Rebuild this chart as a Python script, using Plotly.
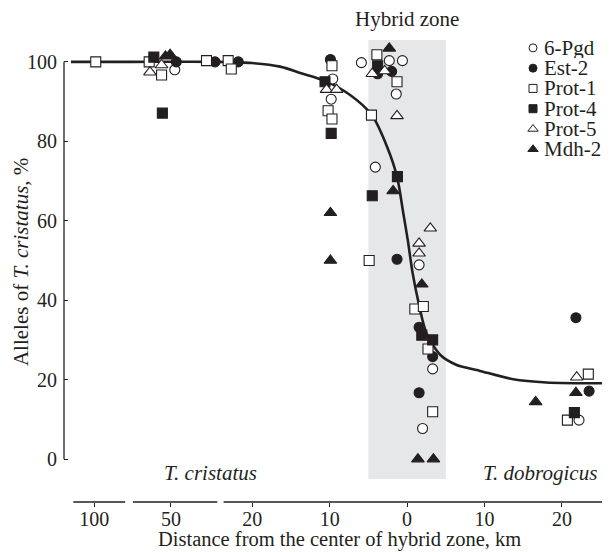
import plotly.graph_objects as go

# ---------------- data (signed distance in km: negative = T. cristatus side) -------------
genes = ["6-Pgd", "Est-2", "Prot-1", "Prot-4", "Prot-5", "Mdh-2"]
symbols = ["circle", "circle", "square", "square", "triangle-up", "triangle-up"]
filled = [False, True, False, True, False, True]

pgd6_x = [-49.5, -9.6, -9.8, -5.9, -2.3, -0.6, -1.4, -4.1, 1.55, 3.3, 2.0, 22.2]
pgd6_y = [98.0, 95.7, 90.6, 99.8, 100.3, 100.3, 91.9, 73.5, 48.9, 22.7, 7.7, 9.8]

est2_x = [-49.3, -44.3, -21.8, -9.9, -3.8, -2.0, -1.3, 1.55, 3.3, 1.55, 21.8, 23.5]
est2_y = [100.0, 100.0, 100.0, 100.6, 97.0, 97.6, 50.3, 33.2, 25.8, 16.7, 35.6, 17.1]

prot1_x = [-99.8, -52.8, -51.2, -45.4, -23.1, -22.7, -9.7, -10.2, -9.7, -3.9, -1.3,
           -4.6, -4.9, 1.0, 2.1, 2.7, 3.3, 23.4, 20.7]
prot1_y = [100.0, 100.0, 96.7, 100.3, 100.3, 98.2, 99.0, 87.7, 85.6, 101.8, 95.0,
           86.6, 50.0, 37.8, 38.4, 27.7, 11.9, 21.4, 9.8]

prot4_x = [-52.2, -51.1, -10.6, -9.8, -3.8, -1.25, -4.5, 1.9, 3.3, 21.6]
prot4_y = [101.2, 87.1, 95.0, 82.0, 99.0, 71.1, 66.3, 31.2, 30.0, 11.7]

prot5_x = [-52.7, -51.2, -10.4, -9.1, -4.5, -2.9, -1.3, 3.0, 1.55, 1.55, 21.9]
prot5_y = [97.4, 99.2, 93.0, 93.0, 97.0, 97.7, 86.4, 58.1, 54.3, 51.8, 20.6]

mdh2_x = [-50.7, -50.1, -9.9, -9.9, -2.3, -1.8, 1.9, 1.4, 3.4, 21.8, 16.6]
mdh2_y = [101.4, 101.8, 62.0, 50.0, 103.4, 67.5, 44.0, 0.0, 0.0, 16.7, 14.4]

series_x = [pgd6_x, est2_x, prot1_x, prot4_x, prot5_x, mdh2_x]
series_y = [pgd6_y, est2_y, prot1_y, prot4_y, prot5_y, mdh2_y]

# fitted cline
cline_x = [-103, -55, -44, -20, -16.4, -13.8, -10.6, -7.4, -4.55, -2.6, -1.3, -0.5,
           0.1, 0.7, 1.5, 2.5, 4.3, 6.4, 8.1, 9.4, 13.7, 18.0, 27.0]
cline_y = [100, 100, 100, 99.7, 98.8, 97.2, 95.2, 91.7, 86.6, 78.7, 71.1, 62.0,
           55.0, 47.0, 39.2, 31.7, 26.2, 23.7, 22.8, 22.2, 20.1, 19.3, 19.1]

tick_km = [-100, -50, -20, -10, 0, 10, 20]
tick_text = ["100", "50", "20", "10", "0", "10", "20"]
y_ticks = [0, 20, 40, 60, 80, 100]
hybrid_zone = [-5, 5]
axis_segments = [[-102.7, -96.0], [-54.9, -44.0], [-23.7, 27.0]]


# broken-axis transform: km -> axis units
def to_axis(d):
    if d <= -80:
        return d + 59.6
    if d <= -35:
        return d + 19.5
    return d


BLACK = "#231f20"
FONT = "Liberation Serif, Times New Roman, serif"
FS = 21
TFS = 20

fig = go.Figure()

# hybrid zone band
fig.add_shape(type="rect", xref="x", yref="y",
              x0=hybrid_zone[0], x1=hybrid_zone[1], y0=-5.0, y1=105.5,
              fillcolor="#e6e7e8", line_width=0, layer="below")

# cline
fig.add_trace(go.Scatter(x=[to_axis(v) for v in cline_x], y=cline_y, mode="lines",
                         line=dict(color=BLACK, width=2.6, shape="spline", smoothing=0.8),
                         showlegend=False, hoverinfo="skip"))

for g, sym, fl, xs, ys in zip(genes, symbols, filled, series_x, series_y):
    fig.add_trace(go.Scatter(
        x=[to_axis(v) for v in xs], y=ys, mode="markers", name=g, showlegend=False,
        cliponaxis=False,
        marker=dict(symbol=sym, size=10 if "triangle" not in sym else 11,
                    color=BLACK if fl else "white",
                    line=dict(color=BLACK, width=1.1))))

# manual legend (overlay axes in 0..1 plot coordinates)
leg_x_marker = 0.859
leg_x_text = 0.877
leg_y0 = 0.983
leg_dy = 0.0439
for i, (g, sym, fl) in enumerate(zip(genes, symbols, filled)):
    yy = leg_y0 - i * leg_dy
    fig.add_trace(go.Scatter(
        x=[leg_x_marker], y=[yy], xaxis="x2", yaxis="y2", mode="markers",
        showlegend=False, hoverinfo="skip", cliponaxis=False,
        marker=dict(symbol=sym, size=8 if "triangle" not in sym else 9,
                    color=BLACK if fl else "white", line=dict(color=BLACK, width=1))))
    fig.add_annotation(x=leg_x_text, y=yy, xref="paper", yref="paper", text=g,
                       showarrow=False, xanchor="left", yanchor="middle",
                       borderpad=0, height=20, valign="middle",
                       font=dict(family=FONT, size=FS, color=BLACK))

# broken x-axis segments
for a, b in axis_segments:
    fig.add_shape(type="line", xref="x", yref="paper", x0=to_axis(a), x1=to_axis(b),
                  y0=0, y1=0, line=dict(color=BLACK, width=1.3))

# y-axis line from 0 to 100
fig.add_shape(type="line", xref="paper", yref="y", x0=0, x1=0, y0=0, y1=100,
              line=dict(color=BLACK, width=1.3))


def label(text, x, y, angle=0, size=FS):
    fig.add_annotation(x=x, y=y, xref="paper", yref="paper", text=text, textangle=angle,
                       showarrow=False, xanchor="center", yanchor="middle", borderpad=0,
                       font=dict(family=FONT, size=size, color=BLACK))


label("Hybrid zone", 0.628, 1.046)
label("<i>T. cristatus</i>", 0.269, 0.063)
label("<i>T. dobrogicus</i>", 0.872, 0.063)
label("Distance from the center of hybrid zone, km", 0.505, -0.082, size=20.5)
label("Alleles of <i>T. cristatus</i>, %", -0.079, 0.519, angle=-90)

# page body has an 8 px margin, so the figure is 8 px smaller than the window
fig.update_layout(
    width=602, height=544,
    margin=dict(l=56, r=0, t=32, b=50),
    paper_bgcolor="white", plot_bgcolor="white",
    font=dict(family=FONT, size=FS, color=BLACK),
    showlegend=False,
    xaxis=dict(range=[-44.3, 26.2], showgrid=False, zeroline=False, showline=False,
               tickvals=[to_axis(v) for v in tick_km], ticktext=tick_text,
               ticks="outside", ticklen=4, tickwidth=1.3, tickcolor=BLACK,
               ticklabelstandoff=-5,
               tickfont=dict(family=FONT, size=TFS, color=BLACK)),
    yaxis=dict(range=[-10.8, 105.5], showgrid=False, zeroline=False, showline=False,
               tickvals=y_ticks, ticks="inside", ticklen=4, tickwidth=1.3,
               tickcolor=BLACK, ticklabelstandoff=6,
               tickfont=dict(family=FONT, size=TFS, color=BLACK)),
    xaxis2=dict(overlaying="x", range=[0, 1], visible=False),
    yaxis2=dict(overlaying="y", range=[0, 1], visible=False),
)

fig.write_html("out.html")
